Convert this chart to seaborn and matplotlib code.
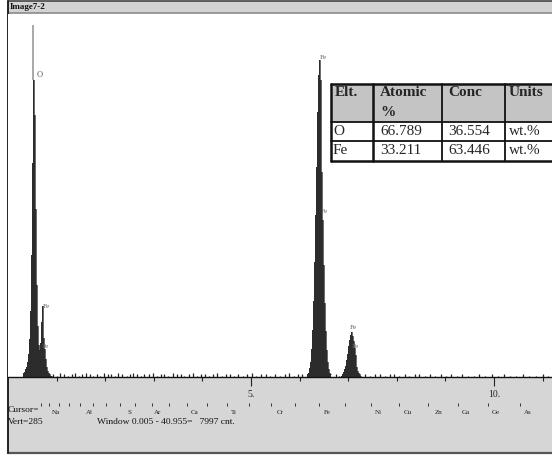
import numpy as np
import pandas as pd
import matplotlib
matplotlib.use("Agg")
import matplotlib.pyplot as plt
from matplotlib.patches import Rectangle
from matplotlib.lines import Line2D
from matplotlib import transforms
import seaborn as sns

# ---------------- spectrum data (energy in keV, counts per channel) ----------------
CHANNEL = 0.02

o_fel_start = 0.30
o_fel_counts = [2, 3, 4, 6, 8, 12, 18, 30, 52, 96, 168, 233, 206, 132, 72, 40,
                25, 21, 27, 43, 56, 49, 31, 22, 14, 8, 5, 3, 2, 1, 1]
o_peak_energy = 0.52
o_peak_max = 276

fe_ka_start = 6.16
fe_ka_counts = [2, 3, 7, 12, 22, 37, 60, 90, 127, 165, 208, 237, 249, 233, 201,
                161, 123, 88, 58, 36, 21, 12, 6, 3, 2]

fe_kb_start = 6.86
fe_kb_counts = [1, 2, 4, 6, 9, 13, 18, 24, 29, 33, 35, 32, 28, 23, 17, 12, 8, 5,
                3, 2, 1]

bg_energy = [0.92, 1.00, 1.08, 1.15, 1.24, 1.31, 1.38, 1.46, 1.52, 1.60, 1.68,
             1.74, 1.83, 1.90, 1.97, 2.05, 2.12, 2.20, 2.27, 2.35, 2.44, 2.50,
             2.58, 2.66, 2.73, 2.80, 2.90, 2.98, 3.06, 3.15, 3.22, 3.30, 3.40,
             3.47, 3.55, 3.63, 3.72, 3.80, 3.88, 3.97, 4.05, 4.14, 4.22, 4.30,
             4.40, 4.48, 4.57, 4.65, 4.74, 4.83, 4.92, 5.02, 5.10, 5.20, 5.31,
             5.40, 5.50, 5.60, 5.70, 5.78, 5.88, 5.97, 6.05, 6.75, 6.82, 7.35,
             7.44, 7.55, 7.66, 7.76, 7.86, 7.95, 8.05, 8.16, 8.26, 8.37, 8.46,
             8.57, 8.68, 8.78, 8.90, 9.01, 9.12, 9.24, 9.35, 9.46, 9.58, 9.70,
             9.82, 9.95, 10.08, 10.20, 10.33, 10.46, 10.60, 10.73, 10.86, 11.00,
             11.12]
bg_counts = [2, 1, 3, 2, 1, 2, 3, 1, 2, 3, 2, 1, 2, 1, 3, 2, 2, 1, 3, 2, 1, 2,
             3, 2, 1, 2, 2, 3, 1, 2, 2, 1, 3, 2, 2, 1, 2, 3, 1, 2, 2, 1, 2, 3,
             1, 2, 2, 1, 2, 1, 2, 3, 1, 2, 2, 1, 2, 1, 2, 3, 1, 2, 2, 2, 1, 2,
             1, 2, 2, 1, 2, 2, 1, 2, 1, 2, 2, 1, 2, 1, 2, 1, 2, 1, 2, 1, 1, 2,
             1, 2, 1, 2, 1, 1, 2, 1, 1, 2, 1]

# peak identification labels: (text, energy keV, counts)
peak_labels = [("O", 0.58, 237), ("Fe", 0.72, 55), ("Fe", 0.70, 24),
               ("Fe", 6.42, 251), ("Fe", 6.44, 130), ("Fe", 7.04, 39),
               ("Fe", 7.08, 24)]

# element marker lines (K-alpha energies, keV)
marker_energy = [0.677, 0.849, 1.041, 1.254, 1.487, 1.740, 2.013, 2.307, 2.622,
                 2.957, 3.313, 3.691, 4.090, 4.510, 4.952, 5.414, 5.898, 6.403,
                 6.930, 7.477, 8.047, 8.638, 9.251, 9.886, 10.543]
marker_names = ["Na", "Al", "S", "Ar", "Ca", "Ti", "Cr", "Fe", "Ni", "Cu", "Zn",
                "Ga", "Ge", "As"]
marker_name_energy = [0.99, 1.67, 2.49, 3.07, 3.85, 4.65, 5.60, 6.56, 7.61, 8.23,
                      8.85, 9.42, 10.04, 10.70]

# quantification table
table_header = ["Elt.", "Atomic", "Conc", "Units"]
table_elements = ["O", "Fe"]
table_atomic = ["66.789", "33.211"]
table_conc = ["36.554", "63.446"]
table_units = ["wt.%", "wt.%"]

full_scale = 285
energy_max = 11.193


def peak_frame(name, start, counts):
    e = np.round(start + CHANNEL * np.arange(len(counts)), 3)
    return pd.DataFrame({"peak": name, "energy": e, "counts": counts})


spectrum = pd.concat([peak_frame("O/Fe L", o_fel_start, o_fel_counts),
                      peak_frame("Fe Ka", fe_ka_start, fe_ka_counts),
                      peak_frame("Fe Kb", fe_kb_start, fe_kb_counts)],
                     ignore_index=True)

# ---------------- figure ----------------
sns.set_theme(style="white")
plt.rcParams["font.family"] = ["Liberation Serif", "DejaVu Serif"]

W, H = 552, 455
fig = plt.figure(figsize=(W / 100, H / 100), dpi=100)
fig.patch.set_facecolor("white")


def fx(px):
    return px / W


def fy(py):
    return 1 - py / H


# window frame: title bar, lower status panel, borders
fig.patches.append(Rectangle((fx(8), fy(13)), fx(544), 12 / H,
                             transform=fig.transFigure, facecolor="#d3d3d3",
                             edgecolor="none", zorder=0))
fig.add_artist(Line2D([fx(8), 1], [fy(1.2), fy(1.2)], color="#444444", lw=1.2))
fig.add_artist(Line2D([fx(8), 1], [fy(13), fy(13)], color="#8a8a8a", lw=1.2))
fig.patches.append(Rectangle((fx(8), fy(452)), fx(544), 75 / H,
                             transform=fig.transFigure, facecolor="#d6d6d6",
                             edgecolor="none", zorder=0))
fig.add_artist(Line2D([fx(8), 1], [fy(452.5), fy(452.5)], color="#555555", lw=1.6))
fig.add_artist(Line2D([fx(7.5), fx(7.5)], [fy(1), fy(453)], color="#222222", lw=1.4))
fig.text(fx(10), fy(7), "Image7-2", fontsize=6.5, fontweight="semibold",
         ha="left", va="center", color="#111111")

# spectrum axes
ax = fig.add_axes([fx(8), fy(377), fx(544), (377 - 14) / H])
ax.set_facecolor("white")
ax.set_zorder(2)

for name, grp in spectrum.groupby("peak", sort=False):
    ax.fill_between(grp["energy"], 0, grp["counts"], step="mid",
                    color="#2c2c2c", lw=0)
sns.lineplot(data=spectrum, x="energy", y="counts", units="peak",
             estimator=None, drawstyle="steps-mid", color="#2c2c2c", lw=0.5,
             ax=ax, legend=False)
ax.vlines([o_peak_energy], [max(o_fel_counts)], [o_peak_max],
          color="#9a9a9a", lw=1.2)
ax.vlines(bg_energy, 0, bg_counts, color="#222222", lw=0.9)

for txt, e, c in peak_labels:
    ax.text(e, c, txt, fontsize=6 if txt == "O" else 5.2, color="#606060",
            ha="left", va="center")

ax.set_xlim(0, energy_max)
ax.set_ylim(0, full_scale)
ax.set_xlabel("")
ax.set_ylabel("")
ax.set_yticks([])
ax.set_xticks([5, 10])
ax.set_xticklabels(["5.", "10."], fontsize=7)
ax.set_xticks([1, 2, 3, 4, 6, 7, 8, 9, 11], minor=True)
ax.tick_params(axis="x", which="major", length=6.5, width=0.8, color="#222222",
               direction="out", pad=3, bottom=True)
ax.tick_params(axis="x", which="minor", length=2.6, width=0.8, color="#222222",
               direction="out", bottom=True)
for side in ("top", "right", "left"):
    ax.spines[side].set_visible(False)
ax.spines["bottom"].set_color("#111111")
ax.spines["bottom"].set_linewidth(1.0)

# element marker row under the axis
blend = transforms.blended_transform_factory(ax.transData, fig.transFigure)
ax.vlines(marker_energy, fy(406), fy(402.5), transform=blend, color="#333333",
          lw=0.7, clip_on=False)
for name, e in zip(marker_names, marker_name_energy):
    ax.text(e, fy(412), name, transform=blend, fontsize=5, color="#222222",
            ha="center", va="center", clip_on=False)

fig.text(fx(8), fy(410), "Cursor=", fontsize=6.8, ha="left", va="center",
         color="#111111")
fig.text(fx(8), fy(421.5), f"Vert={full_scale}", fontsize=6.8, ha="left",
         va="center", color="#111111")
fig.text(fx(97), fy(421.5), "Window 0.005 - 40.955=   7997 cnt.", fontsize=6.8,
         ha="left", va="center", color="#111111")

# quantification table
col_x = [331, 373, 442, 505, 575]
row_y = [84, 122, 141, 161]
fig.patches.append(Rectangle((fx(331), fy(122)), fx(575 - 331), 38 / H,
                             transform=fig.transFigure, facecolor="#c4c4c4",
                             edgecolor="none", zorder=3))
fig.patches.append(Rectangle((fx(331), fy(161)), fx(575 - 331), 39 / H,
                             transform=fig.transFigure, facecolor="white",
                             edgecolor="none", zorder=3))
for i, x in enumerate(col_x[:-1]):
    lw = 1.8 if i < 2 else 1.3
    fig.add_artist(Line2D([fx(x), fx(x)], [fy(row_y[0]), fy(row_y[-1])],
                          color="#111111", lw=lw, zorder=4))
for j, y in enumerate(row_y):
    lw = 1.8 if j in (0, 3) else 1.3
    fig.add_artist(Line2D([fx(331), 1], [fy(y), fy(y)], color="#111111",
                          lw=lw, zorder=4))

text_x = [335, 380, 448, 509]
header_y = 93
for c, label in enumerate(table_header):
    fig.text(fx(text_x[c]), fy(header_y), label, fontsize=11, fontweight="bold",
             ha="left", va="center", zorder=5)
fig.text(fx(text_x[1]), fy(113), "%", fontsize=11, fontweight="bold",
         ha="left", va="center", zorder=5)

row_centers = [131.5, 151]
for r, yc in enumerate(row_centers):
    cells = [table_elements[r], table_atomic[r], table_conc[r], table_units[r]]
    for c, val in enumerate(cells):
        fig.text(fx(text_x[c] - (2 if c == 0 else 0)), fy(yc), val, fontsize=11,
                 ha="left", va="center", zorder=5)

fig.savefig("out.png", dpi=100)
